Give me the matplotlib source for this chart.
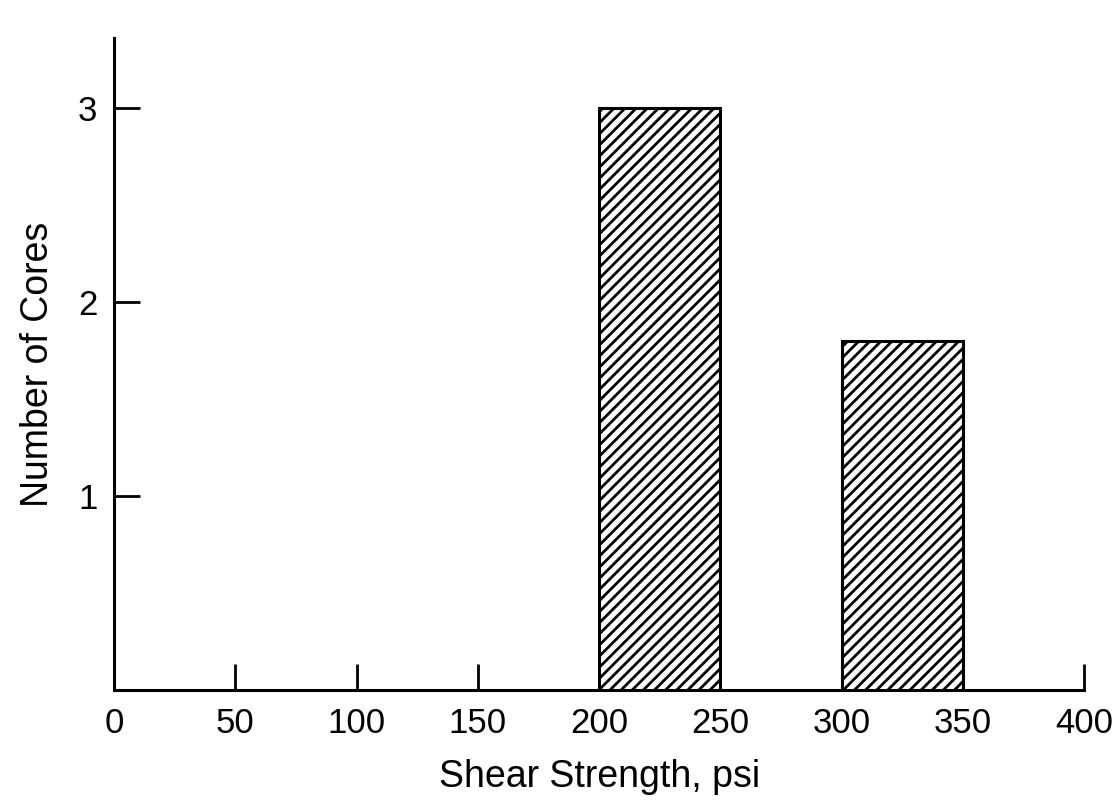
import numpy as np
from matplotlib import pyplot as plt

# bins of the histogram (psi) and core counts
bin_left = [200, 300]
bin_width = [50, 50]
cores = [3, 1.8]
x_ticks = [0, 50, 100, 150, 200, 250, 300, 350, 400]
y_ticks = [1, 2, 3]

plt.rcParams['font.family'] = ['Liberation Sans', 'DejaVu Sans']
plt.rcParams['hatch.linewidth'] = 2.0

fig = plt.figure(figsize=(11.12, 8.09), dpi=100)
ax = fig.add_axes([0.1025, 0.147, 0.8725, 0.806])

ax.bar(bin_left, cores, width=bin_width, align='edge', color='white',
       edgecolor='black', linewidth=2.2, hatch='///', zorder=3)

ax.set_xlim(0, 400)
ax.set_ylim(0, 3.36)
ax.set_xticks(x_ticks)
ax.set_yticks(y_ticks)
ax.tick_params(axis='both', direction='in', length=19, width=2, labelsize=25, pad=12)
ax.tick_params(axis='y', pad=12)

for side in ['top', 'right']:
    ax.spines[side].set_visible(False)
for side in ['left', 'bottom']:
    ax.spines[side].set_linewidth(2.2)

ax.set_xlabel('Shear Strength, psi', fontsize=27, labelpad=14)
ax.set_ylabel('Number of Cores', fontsize=27, labelpad=16)

fig.savefig('out.png', dpi=100)
